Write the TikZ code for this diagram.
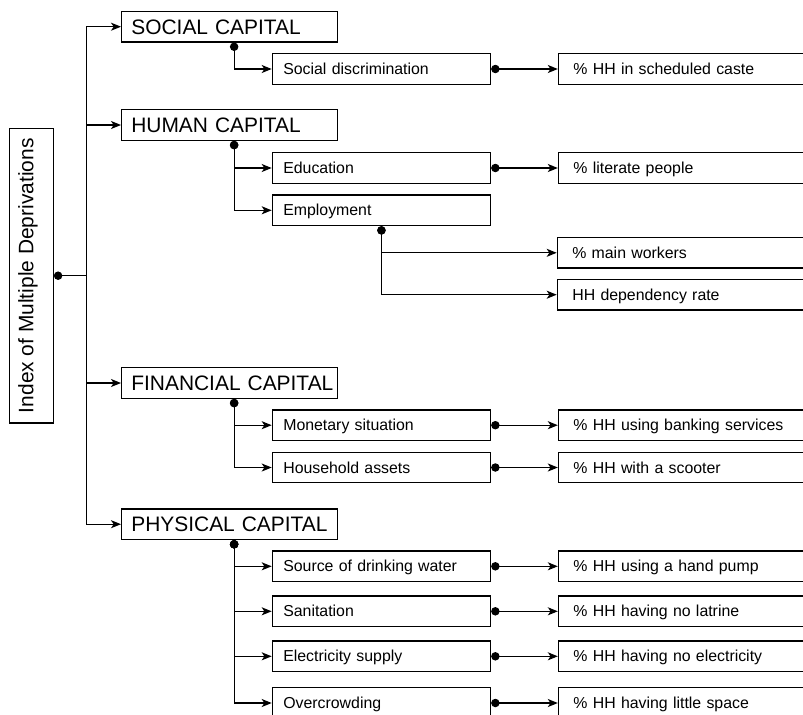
\documentclass[tikz,border=0pt]{standalone}
\usepackage{fontspec}
\setmainfont{Liberation Sans}
\usetikzlibrary{arrows.meta}
\usetikzlibrary{positioning}

\tikzset{
  box/.style={draw,rectangle,line width=0.9pt,anchor=west,align=left,
    inner ysep=0pt,minimum height=22.9pt,text depth=0pt},
  capital/.style={box,inner xsep=7.3pt,text width=147.4pt,text height=11.25pt,
    font=\fontsize{15.7}{18}\selectfont,
    execute at begin node=\hbox\bgroup,execute at end node=\egroup},
  factor/.style={box,inner xsep=8.25pt,text width=147.2pt,text height=8.5pt,
    font=\fontsize{11.9}{14}\selectfont},
  indicator/.style={box,inner xsep=11.25pt,text width=180pt,text height=8.5pt,
    font=\fontsize{11.9}{14}\selectfont},
  link/.style={line width=0.9pt,-{Stealth[length=7.5pt,width=6pt,inset=2pt]}},
  dotlink/.style={line width=0.9pt,{Circle[length=6.3pt]}-{Stealth[length=7.5pt,width=6pt,inset=2pt]}},
  dotline/.style={line width=0.9pt,{Circle[length=6.3pt]}-}
}

\begin{document}
\begin{tikzpicture}[x=0.75pt,y=-0.75pt]

  \useasboundingbox (0,0) rectangle (803,714);

  \node [draw,line width=0.9pt,rotate=90,minimum width=221pt,minimum height=33pt,
    inner sep=0pt,text height=11.25pt,text depth=8.25pt,
    font=\fontsize{15.7}{18}\selectfont] (imd) at (31.3,275.7) {Index of Multiple Deprivations};

  % capitals
  \node [capital] (soc)  at (121,26.7)  {SOCIAL CAPITAL};
  \node [capital] (hum)  at (121,125)   {HUMAN CAPITAL};
  \node [capital] (fin)  at (121,383)   {FINANCIAL CAPITAL};
  \node [capital] (phys) at (121,524.2) {PHYSICAL CAPITAL};

  % factors
  \node [factor] (sdisc)  at (271.7,69)    {Social discrimination};
  \node [factor] (edu)    at (271.7,168)   {Education};
  \node [factor] (emp)    at (271.7,210.3) {Employment};
  \node [factor] (mon)    at (271.7,425.2) {Monetary situation};
  \node [factor] (assets) at (271.7,467.5) {Household assets};
  \node [factor] (water)  at (271.7,566.3) {Source of drinking water};
  \node [factor] (sanit)  at (271.7,611.3) {Sanitation};
  \node [factor] (elec)   at (271.7,656.3) {Electricity supply};
  \node [factor] (crowd)  at (271.7,703)   {Overcrowding};

  % indicators
  \node [indicator,right=50pt of sdisc]  (caste)  {\% HH in scheduled caste};
  \node [indicator,right=50pt of edu]    (lit)    {\% literate people};
  \node [indicator] (work) at (556.7,252.8) {\% main workers};
  \node [indicator] (dep)  at (556.7,294.7) {HH dependency rate};
  \node [indicator,right=50pt of mon]    (bank)   {\% HH using banking services};
  \node [indicator,right=50pt of assets] (scoot)  {\% HH with a scooter};
  \node [indicator,right=50pt of water]  (pump)   {\% HH using a hand pump};
  \node [indicator,right=50pt of sanit]  (latr)   {\% HH having no latrine};
  \node [indicator,right=50pt of elec]   (noel)   {\% HH having no electricity};
  \node [indicator,right=50pt of crowd]  (space)  {\% HH having little space};

  \draw [dotline] (imd.south) -- ++(32.7,0) coordinate (trunk);
  \draw [link] (trunk) |- (soc.west);
  \draw [link] (trunk) |- (hum.west);
  \draw [link] (trunk) |- (fin.west);
  \draw [link] (trunk) |- (phys.west);

  \draw [dotlink] ([xshift=3.4pt]soc.south)  |- (sdisc.west);
  \draw [dotlink] ([xshift=3.4pt]hum.south)  |- (edu.west);
  \draw [dotlink] ([xshift=3.4pt]hum.south)  |- (emp.west);
  \draw [dotlink] ([xshift=3.4pt]fin.south)  |- (mon.west);
  \draw [dotlink] ([xshift=3.4pt]fin.south)  |- (assets.west);
  \draw [dotlink] ([xshift=3.4pt]phys.south) |- (water.west);
  \draw [dotlink] ([xshift=3.4pt]phys.south) |- (sanit.west);
  \draw [dotlink] ([xshift=3.4pt]phys.south) |- (elec.west);
  \draw [dotlink] ([xshift=3.4pt]phys.south) |- (crowd.west);

  \draw [dotlink] (emp.south) |- (work.west);
  \draw [dotlink] (emp.south) |- (dep.west);

  \draw [dotlink] (sdisc.east)  -- (caste.west);
  \draw [dotlink] (edu.east)    -- (lit.west);
  \draw [dotlink] (mon.east)    -- (bank.west);
  \draw [dotlink] (assets.east) -- (scoot.west);
  \draw [dotlink] (water.east)  -- (pump.west);
  \draw [dotlink] (sanit.east)  -- (latr.west);
  \draw [dotlink] (elec.east)   -- (noel.west);
  \draw [dotlink] (crowd.east)  -- (space.west);

\end{tikzpicture}
\end{document}
